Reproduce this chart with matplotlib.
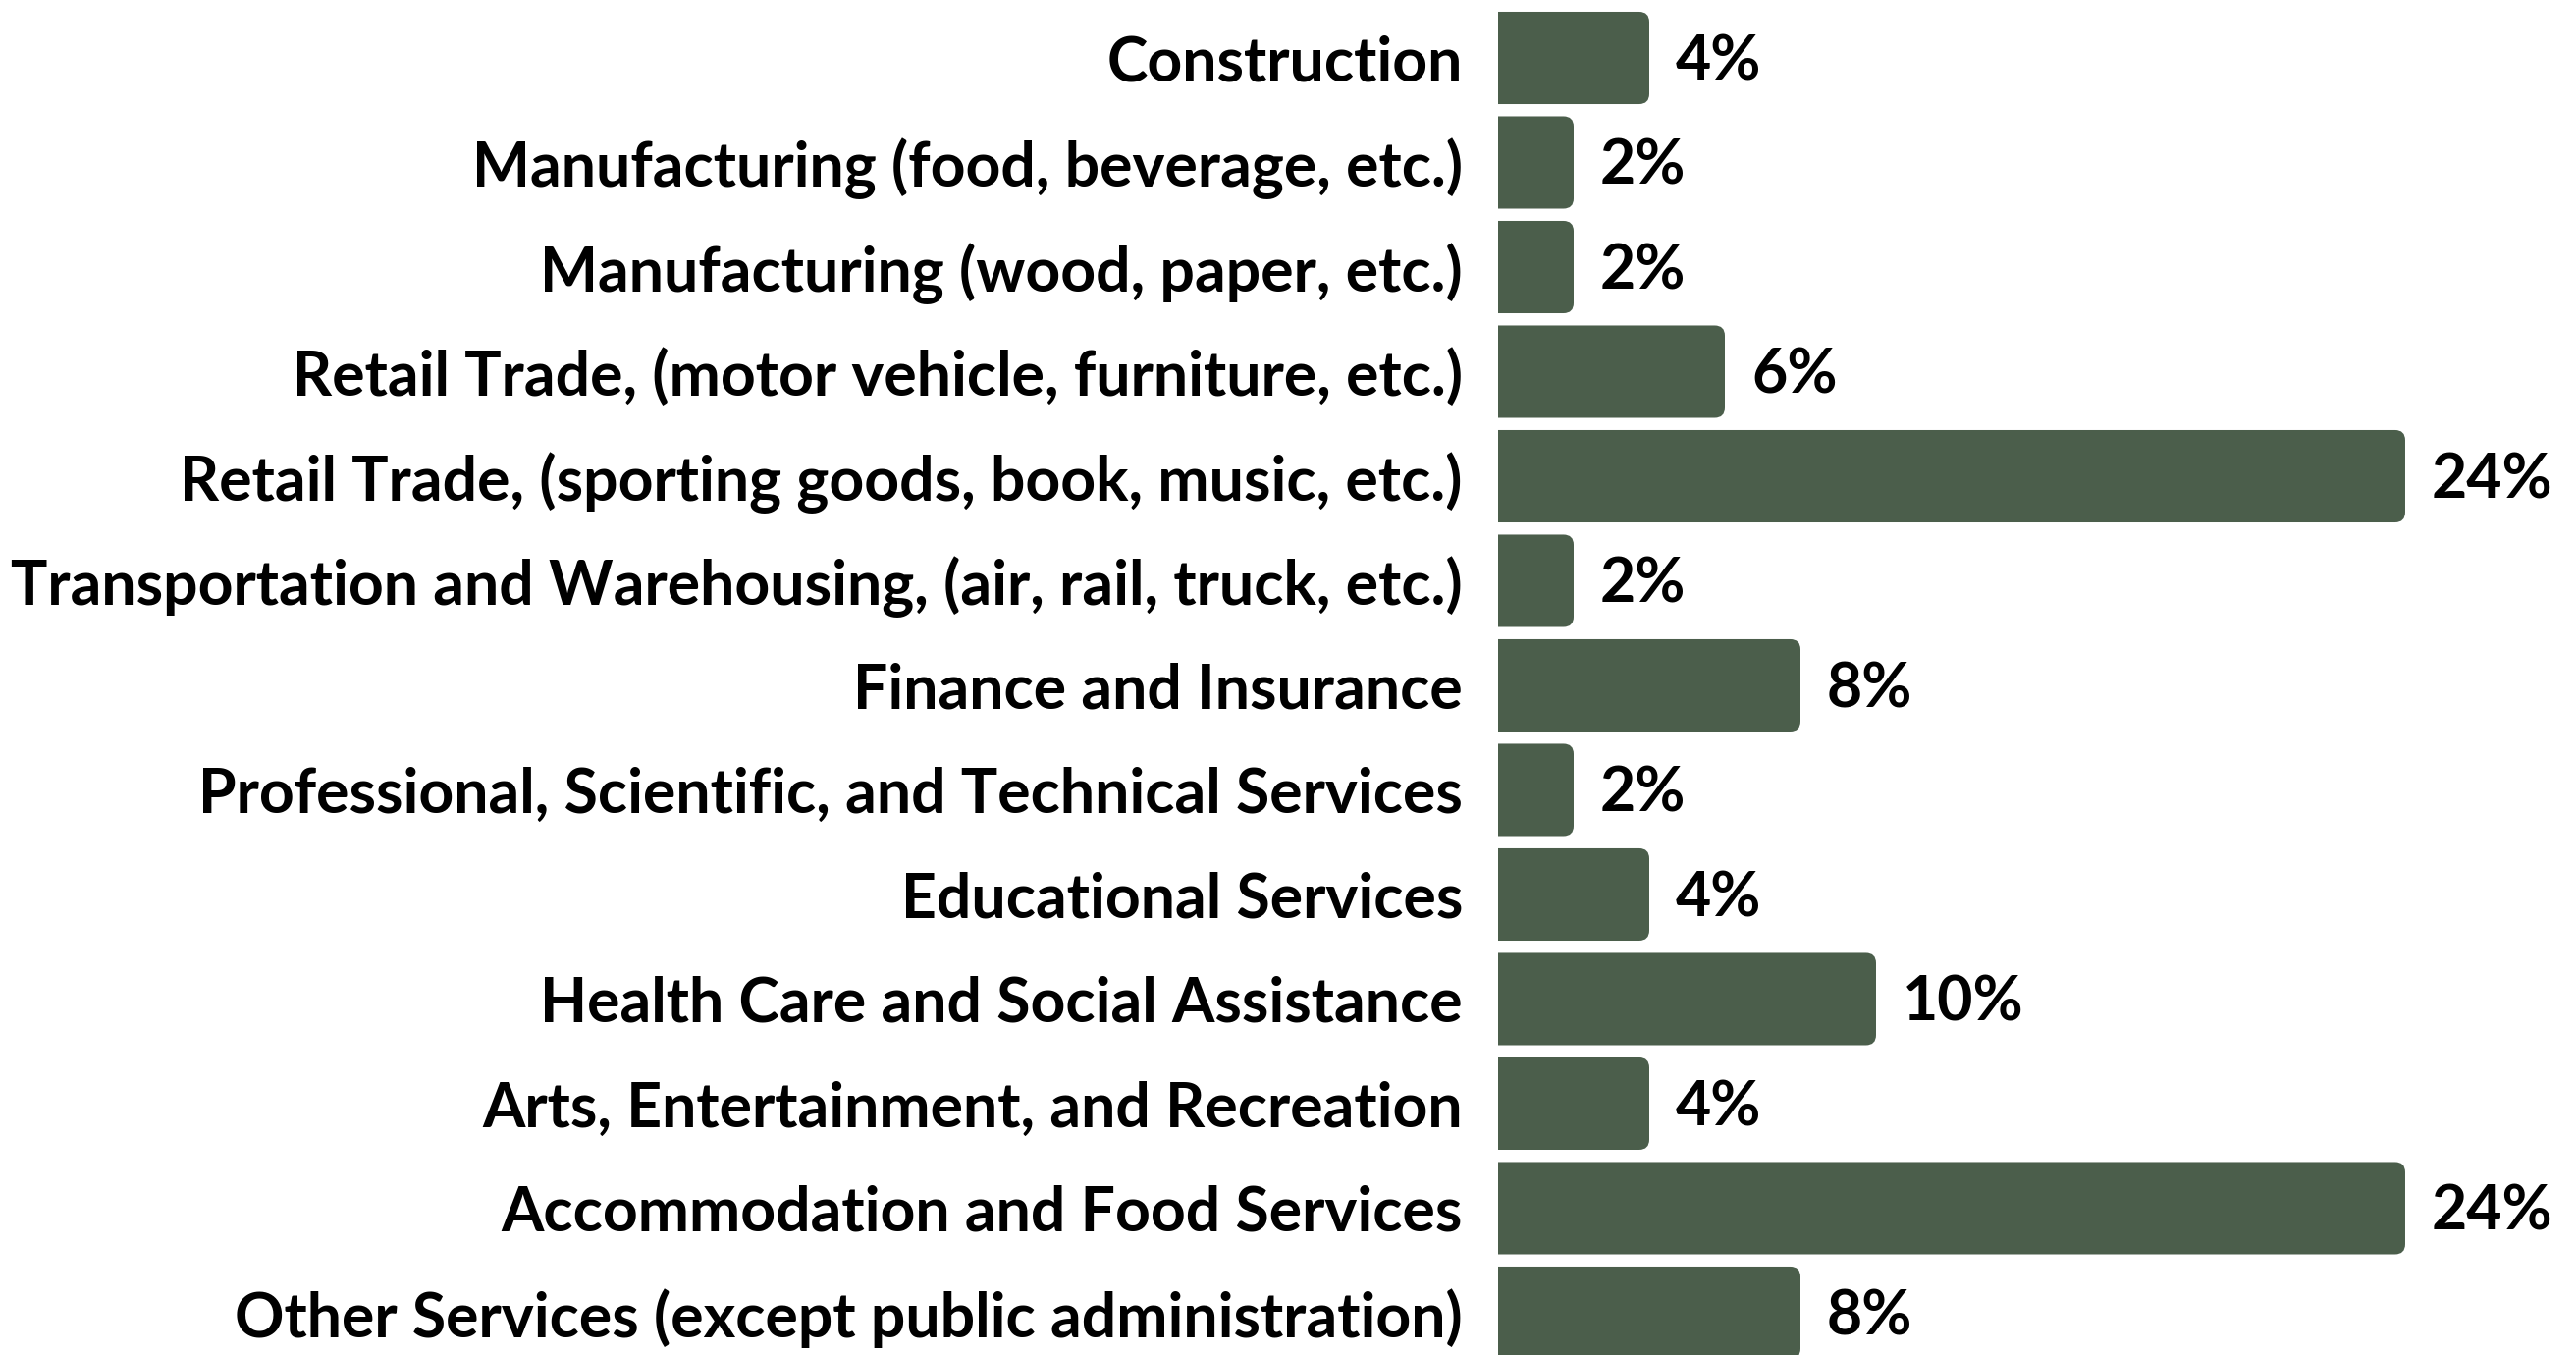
import matplotlib
matplotlib.use("Agg")
import matplotlib.pyplot as plt
from matplotlib.patches import FancyBboxPatch

industries = [
    "Construction",
    "Manufacturing (food, beverage, etc.)",
    "Manufacturing (wood, paper, etc.)",
    "Retail Trade, (motor vehicle, furniture, etc.)",
    "Retail Trade, (sporting goods, book, music, etc.)",
    "Transportation and Warehousing, (air, rail, truck, etc.)",
    "Finance and Insurance",
    "Professional, Scientific, and Technical Services",
    "Educational Services",
    "Health Care and Social Assistance",
    "Arts, Entertainment, and Recreation",
    "Accommodation and Food Services",
    "Other Services (except public administration)",
]
shares = [4, 2, 2, 6, 24, 2, 8, 2, 4, 10, 4, 24, 8]

bar_color = "#4b5e4b"
font = "Lato"

fig = plt.figure(figsize=(26.24, 13.8), dpi=100)
ax = fig.add_axes([1526 / 2624, 0, 1098 / 2624, 1])

ypos = list(range(len(industries)))
bars = ax.barh(ypos, shares, height=0.883, color=bar_color)

# swap the plain rectangles for ones with rounded right corners
for b in bars:
    x0, y0 = b.get_x(), b.get_y()
    w, h = b.get_width(), b.get_height()
    b.set_visible(False)
    patch = FancyBboxPatch((x0 - 1, y0), w + 1, h,
                           boxstyle="round,pad=0,rounding_size=0.27",
                           mutation_aspect=0.36,
                           facecolor=bar_color, edgecolor="none")
    ax.add_patch(patch)

for y, v in zip(ypos, shares):
    ax.text(v + 0.7, y + 0.04, f"{v}%", va="center", ha="left",
            fontsize=45, fontweight="bold", family=font, color="black")

ax.set_xlim(0, 28.52)
ax.set_ylim(12.404, -0.554)
ax.set_yticks(ypos)
ax.set_yticklabels(industries, fontsize=45, fontweight="bold", family=font)
ax.tick_params(axis="y", length=0, pad=26)
ax.set_xticks([])
for s in ax.spines.values():
    s.set_visible(False)

fig.savefig("out.png", dpi=100, facecolor="white")
